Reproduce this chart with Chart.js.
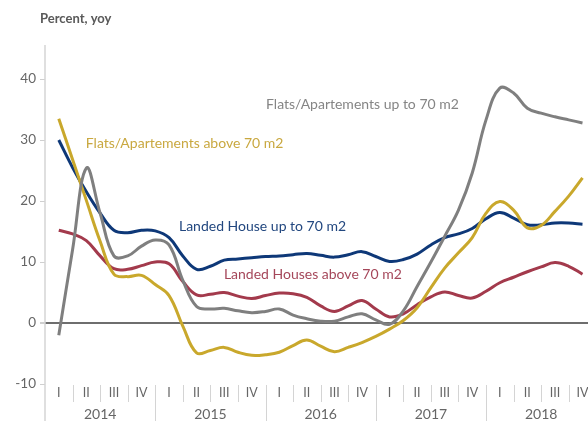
<!DOCTYPE html>
<html>
<head>
<meta charset="utf-8">
<script src="https://cdn.jsdelivr.net/npm/chart.js@4.4.1/dist/chart.umd.min.js"></script>
<style>
  html, body { margin: 0; padding: 0; background: #fff; }
  canvas { display: block; }
</style>
</head>
<body>
<canvas id="myChart" width="588" height="421"></canvas>
<script>
// x positions in quarters since 2014 Q1, sampled every half quarter
const steps = [0, 0.5, 1, 1.5, 2, 2.5, 3, 3.5, 4, 4.5, 5, 5.5, 6, 6.5, 7, 7.5, 8, 8.5, 9, 9.5,
  10, 10.5, 11, 11.5, 12, 12.5, 13, 13.5, 14, 14.5, 15, 15.5, 16, 16.5, 17, 17.5, 18, 18.5, 19];

const quarters = ['I', 'II', 'III', 'IV'];
const years = ['2014', '2015', '2016', '2017', '2018'];

const flatsSmall = [-2.0, 12.0, 25.4, 18.0, 11.0, 11.0, 12.6, 13.6, 12.8, 7.0, 2.7, 2.3, 2.4, 2.0, 1.7, 1.9, 2.3, 1.3, 0.7, 0.3,
  0.3, 1.0, 1.5, 0.5, -0.2, 2.0, 6.0, 10.0, 14.2, 18.5, 24.6, 33.3, 38.5, 37.7, 35.2, 34.4, 33.8, 33.3, 32.8];
const flatsLarge = [33.5, 26.8, 20.1, 13.4, 8.0, 7.6, 7.8, 6.3, 4.5, -0.5, -4.9, -4.5, -4.0, -4.8, -5.3, -5.2, -4.8, -3.7, -2.8, -3.8,
  -4.7, -4.0, -3.2, -2.2, -1.0, 0.4, 2.5, 5.8, 9.0, 11.5, 14.0, 18.0, 19.9, 18.5, 15.6, 16.0, 18.3, 20.8, 23.8];
const housesSmall = [30.0, 25.5, 21.5, 18.0, 15.2, 14.8, 15.2, 15.1, 14.0, 11.0, 8.8, 9.3, 10.3, 10.5, 10.7, 10.9, 11.0, 11.2, 11.4, 11.1,
  10.8, 11.2, 11.7, 10.9, 10.1, 10.4, 11.3, 12.8, 14.0, 14.6, 15.5, 17.1, 18.1, 17.2, 16.1, 16.1, 16.4, 16.4, 16.2];
const housesLarge = [15.2, 14.6, 13.5, 11.0, 8.9, 8.8, 9.4, 10.0, 9.7, 6.8, 4.6, 4.7, 5.0, 4.4, 4.0, 4.5, 4.9, 4.8, 4.2, 2.8,
  1.9, 2.8, 3.7, 2.3, 1.0, 1.5, 3.0, 4.3, 5.1, 4.5, 4.1, 5.2, 6.6, 7.5, 8.4, 9.2, 9.9, 9.3, 8.0];

const series = [
  { label: 'Flats/Apartements up to 70 m2', values: flatsSmall, line: '#7f7f7f', text: '#858585', at: [7.52, 35.9] },
  { label: 'Flats/Apartements above 70 m2', values: flatsLarge, line: '#c9a82c', text: '#c9a840', at: [0.98, 29.5] },
  { label: 'Landed House up to 70 m2', values: housesSmall, line: '#0e3878', text: '#22477f', at: [4.36, 15.9] },
  { label: 'Landed Houses above 70 m2', values: housesLarge, line: '#a33a4c', text: '#a5475a', at: [5.99, 7.9] }
];

const FONT = 'Lato, "Open Sans", sans-serif';

const decorations = {
  id: 'decorations',
  afterDraw(chart) {
    const ctx = chart.ctx;
    const x = chart.scales.x, y = chart.scales.y;
    ctx.save();

    // title
    ctx.fillStyle = '#595959';
    ctx.font = 'bold 13px ' + FONT;
    ctx.textAlign = 'left';
    ctx.textBaseline = 'middle';
    ctx.fillText('Percent, yoy', 40, 19);

    // y axis line
    ctx.strokeStyle = '#d4d4d4';
    ctx.lineWidth = 1.5;
    ctx.beginPath();
    ctx.moveTo(45, 45);
    ctx.lineTo(45, 421);
    ctx.stroke();

    // quarter labels and separators
    ctx.font = '12.5px ' + FONT;
    ctx.fillStyle = '#666';
    ctx.textAlign = 'center';
    for (let i = 0; i < years.length * 4; i++) {
      ctx.fillText(quarters[i % 4], x.getPixelForValue(i), 393);
      if (i < years.length * 4 - 1) {
        const px = Math.round(x.getPixelForValue(i + 0.5)) + 0.5;
        const yearEnd = i % 4 === 3;
        ctx.strokeStyle = '#d4d4d4';
        ctx.lineWidth = 1;
        ctx.beginPath();
        ctx.moveTo(px, 385);
        ctx.lineTo(px, yearEnd ? 421 : 402);
        ctx.stroke();
      }
    }
    ctx.font = '14px ' + FONT;
    years.forEach((yr, k) => {
      ctx.fillText(yr, x.getPixelForValue(k * 4 + 1.5), 414);
    });

    // series labels
    ctx.font = '14px ' + FONT;
    ctx.textAlign = 'left';
    series.forEach(s => {
      ctx.fillStyle = s.text;
      ctx.fillText(s.label, x.getPixelForValue(s.at[0]), y.getPixelForValue(s.at[1]));
    });
    ctx.restore();
  }
};

const data = {
  datasets: series.map(s => ({
    label: s.label,
    data: steps.map((q, i) => ({ x: q, y: s.values[i] })),
    borderColor: s.line,
    borderWidth: 3,
    pointRadius: 0,
    tension: 0.4,
    fill: false
  }))
};

const config = {
  type: 'line',
  data,
  options: {
    responsive: false,
    animation: false,
    devicePixelRatio: 1,
    layout: { padding: { top: 79, bottom: 37, left: 0, right: 0 } },
    plugins: {
      legend: { display: false },
      tooltip: { enabled: false }
    },
    scales: {
      x: {
        type: 'linear',
        display: false,
        min: -0.5,
        max: 19.2
      },
      y: {
        min: -10,
        max: 40,
        afterFit(scale) { scale.width = 45; },
        border: { display: false },
        grid: {
          drawOnChartArea: true,
          tickLength: 5,
          color: ctx => ctx.tick && ctx.tick.value === 0 ? '#6e6e6e' : 'rgba(0,0,0,0)',
          tickColor: '#cfcfcf',
          lineWidth: ctx => ctx.tick && ctx.tick.value === 0 ? 2 : 1
        },
        ticks: {
          stepSize: 10,
          padding: 4,
          color: '#666',
          font: { family: FONT, size: 13.5 }
        }
      }
    }
  },
  plugins: [decorations]
};

const myChart = new Chart(document.getElementById('myChart'), config);
</script>
</body>
</html>
